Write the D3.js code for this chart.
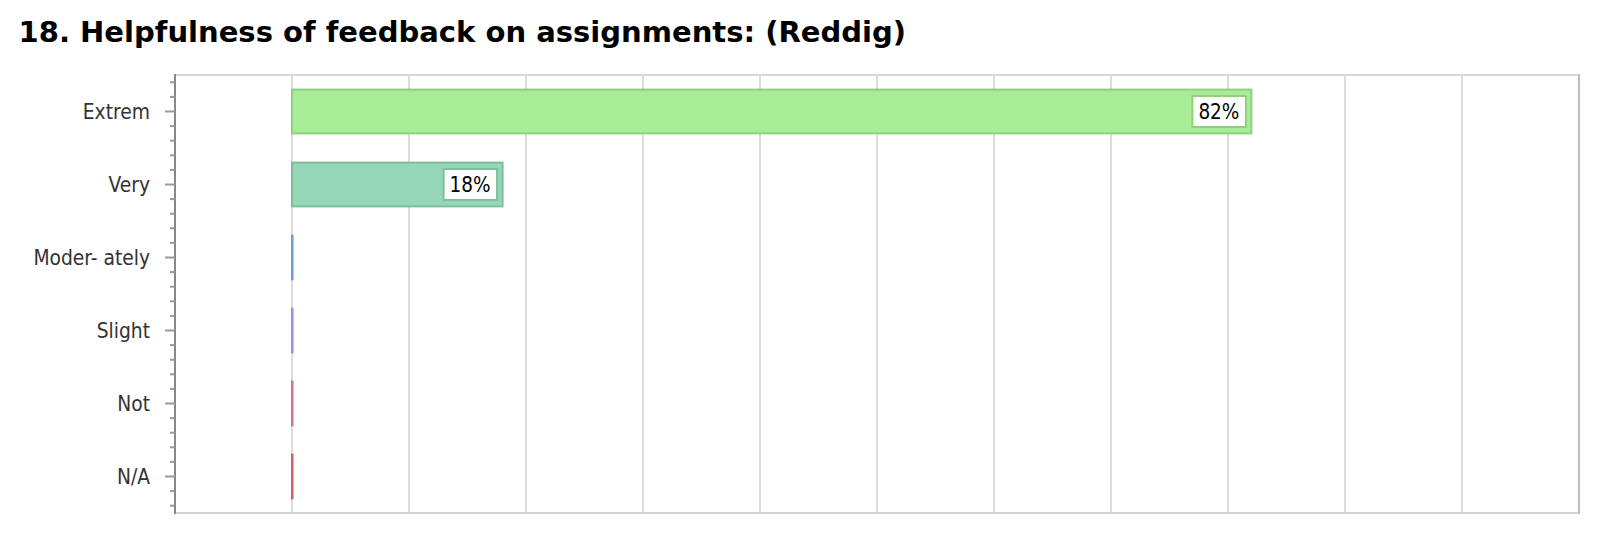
<!DOCTYPE html>
<html>
<head>
<meta charset="utf-8">
<script src="https://cdn.jsdelivr.net/npm/d3@7"></script>
<style>
  html, body { margin: 0; padding: 0; background: #fff; }
  svg { display: block; }
</style>
</head>
<body>
<svg id="chart" width="1620" height="536"></svg>
<script>
const title = "18. Helpfulness of feedback on assignments: (Reddig)";
const categories = ["Extrem", "Very", "Moder- ately", "Slight", "Not", "N/A"];
const values = [82, 18, 0, 0, 0, 0];
const fills = ["#a8ec98", "#97d7b9", "#6a9be0", "#aa88dc", "#d4709f", "#d45f5f"];
const strokes = ["#8cd27d", "#7dbf9c", "#6a9be0", "#aa88dc", "#d4709f", "#d45f5f"];
const gridTicks = [0, 10, 20, 30, 40, 50, 60, 70, 80, 90, 100];
const xDomain = [-10, 110];

const svg = d3.select("#chart");
const plot = { left: 175, right: 1579, top: 75, bottom: 513 };

// Title
const t = svg.append("text")
  .attr("x", 18.5).attr("y", 41.5)
  .attr("font-family", "DejaVu Sans")
  .attr("font-weight", "bold")
  .attr("font-size", 29)
  .attr("fill", "#000")
  .text(title);
const tw = t.node().getComputedTextLength();
t.attr("font-size", 29 * 888 / tw);

const x = d3.scaleLinear().domain(xDomain).range([plot.left, plot.right]);
const y = d3.scaleBand().domain(categories).range([plot.top, plot.bottom]).padding(0);

// Gridlines
svg.append("g").selectAll("line.grid").data(gridTicks).join("line")
  .attr("class", "grid")
  .attr("x1", d => x(d)).attr("x2", d => x(d))
  .attr("y1", plot.top).attr("y2", plot.bottom)
  .attr("stroke", "#dcdcdc").attr("stroke-width", 2);

// Frame: top, bottom, right
svg.append("line").attr("x1", plot.left).attr("x2", plot.right)
  .attr("y1", plot.top).attr("y2", plot.top)
  .attr("stroke", "#d8d8d8").attr("stroke-width", 2);
svg.append("line").attr("x1", plot.left).attr("x2", plot.right + 1)
  .attr("y1", plot.bottom).attr("y2", plot.bottom)
  .attr("stroke", "#d4d4d4").attr("stroke-width", 2);
svg.append("line").attr("x1", plot.right).attr("x2", plot.right)
  .attr("y1", plot.top - 1).attr("y2", plot.bottom + 1)
  .attr("stroke", "#bdbdbd").attr("stroke-width", 2);

// Bars
const barFrac = 0.6;
const bh = y.bandwidth() * barFrac;
const bars = svg.append("g");
categories.forEach((c, i) => {
  const v = values[i];
  const cy = y(c) + y.bandwidth() / 2;
  if (v > 0) {
    bars.append("rect")
      .attr("x", x(0)).attr("y", cy - bh / 2)
      .attr("width", x(v) - x(0)).attr("height", bh)
      .attr("fill", fills[i]).attr("stroke", strokes[i]).attr("stroke-width", 2);
  } else {
    bars.append("rect")
      .attr("x", x(0) - 1).attr("y", cy - bh / 2 - 1)
      .attr("width", 2.5).attr("height", bh + 2)
      .attr("fill", fills[i]);
  }
});

// Value labels
const labels = svg.append("g");
categories.forEach((c, i) => {
  const v = values[i];
  if (v <= 0) return;
  const cy = y(c) + y.bandwidth() / 2;
  const grp = labels.append("g");
  const txt = grp.append("text")
    .attr("x", x(v) - 12).attr("y", cy)
    .attr("dy", "0.36em")
    .attr("text-anchor", "end")
    .attr("font-family", "DejaVu Sans Condensed")
    .attr("font-size", 20.5)
    .attr("fill", "#000")
    .text(v + "%");
  const bb = txt.node().getBBox();
  grp.insert("rect", "text")
    .attr("x", bb.x - 6).attr("y", cy - 15.5)
    .attr("width", bb.width + 12.5).attr("height", 31)
    .attr("fill", "#fff").attr("stroke", strokes[i]).attr("stroke-width", 2);
});

// Left axis
const axis = svg.append("g");
axis.append("line").attr("x1", plot.left).attr("x2", plot.left)
  .attr("y1", plot.top - 1).attr("y2", plot.bottom + 1)
  .attr("stroke", "#888").attr("stroke-width", 2);
const minorFr = [0.1, 0.3, 0.7, 0.9];
const minor = [];
categories.forEach(c => minorFr.forEach(f => minor.push(y(c) + f * y.bandwidth())));
axis.selectAll("line.minor").data(minor).join("line")
  .attr("class", "minor")
  .attr("x1", plot.left - 5).attr("x2", plot.left)
  .attr("y1", d => d).attr("y2", d => d)
  .attr("stroke", "#999").attr("stroke-width", 2);
axis.selectAll("line.major").data(categories).join("line")
  .attr("class", "major")
  .attr("x1", plot.left - 10).attr("x2", plot.left)
  .attr("y1", d => y(d) + y.bandwidth() / 2).attr("y2", d => y(d) + y.bandwidth() / 2)
  .attr("stroke", "#999").attr("stroke-width", 2);
axis.selectAll("text.cat").data(categories).join("text")
  .attr("class", "cat")
  .attr("x", plot.left - 25)
  .attr("y", d => y(d) + y.bandwidth() / 2)
  .attr("dy", "0.36em")
  .attr("text-anchor", "end")
  .attr("font-family", "DejaVu Sans Condensed")
  .attr("font-size", 20.8)
  .attr("fill", "#333")
  .text(d => d);
</script>
</body>
</html>
